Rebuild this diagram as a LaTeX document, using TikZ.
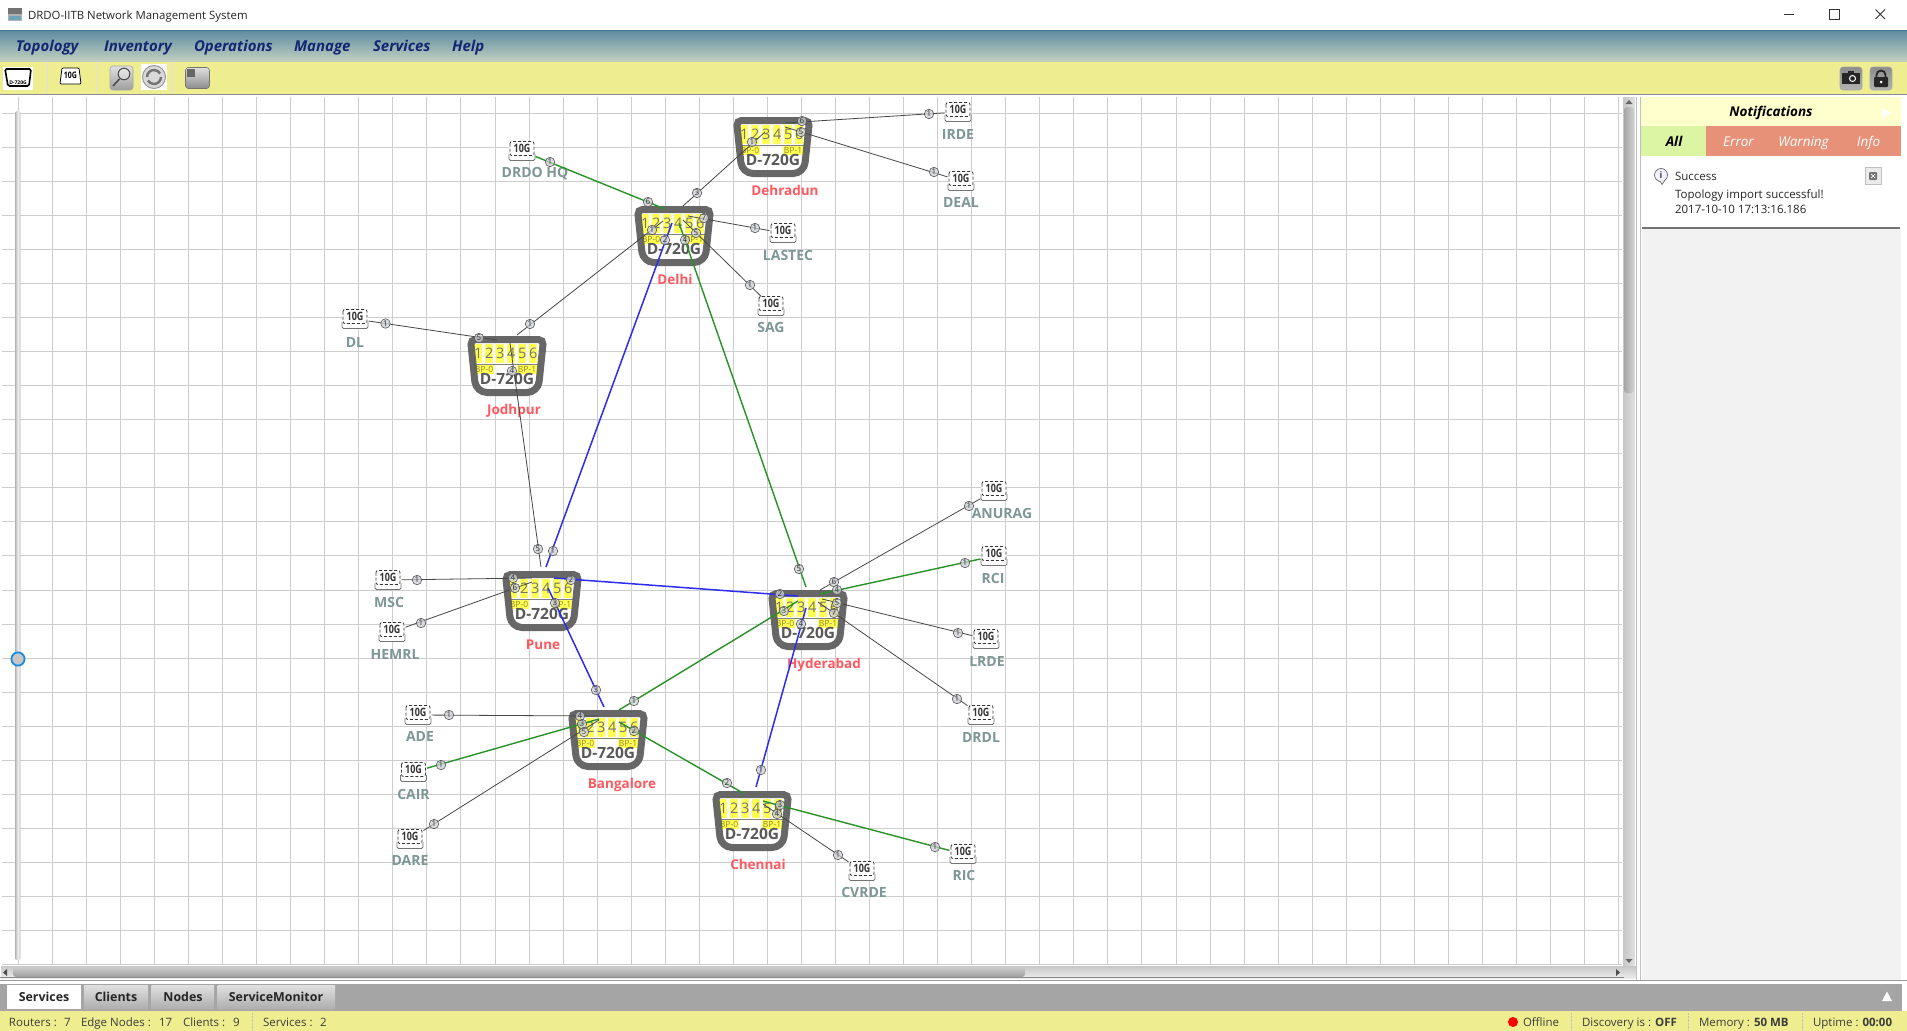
\documentclass[tikz,border=0pt]{standalone}
\usepackage{fontspec}
\setmainfont{Open Sans}
\usetikzlibrary{shapes.geometric}
\definecolor{gridc}{RGB}{205,205,205}
\definecolor{yellowbar}{RGB}{238,238,145}
\definecolor{menublue}{RGB}{18,38,115}
\definecolor{routergrey}{RGB}{95,95,95}
\definecolor{stripe}{RGB}{255,255,85}
\definecolor{bpink}{RGB}{150,135,40}
\definecolor{redlabel}{RGB}{255,88,95}
\definecolor{edgelabel}{RGB}{125,150,150}
\definecolor{linkgreen}{RGB}{40,145,40}
\definecolor{linkblue}{RGB}{45,45,240}
\definecolor{linkgrey}{RGB}{70,70,70}
\definecolor{portfill}{RGB}{205,208,212}
\definecolor{salmon}{RGB}{230,145,120}
\definecolor{panelbg}{RGB}{242,242,242}
\definecolor{tabgrey}{RGB}{165,165,165}
\definecolor{statusink}{RGB}{60,60,60}
\definecolor{menutop}{RGB}{92,140,160}
\definecolor{menubot}{RGB}{192,207,192}
\definecolor{menuline}{RGB}{70,120,150}
\definecolor{knobblue}{RGB}{25,140,225}
\definecolor{notifhead}{RGB}{255,255,205}
\definecolor{allgreen}{RGB}{220,245,165}
\tikzset{
  every node/.style={inner sep=0pt,outer sep=0pt},
  glink/.style={linkgreen,line width=1.4pt},
  blink/.style={linkblue,line width=1.5pt},
  klink/.style={linkgrey,line width=.8pt},
  port/.style={circle,draw=black!65,fill=portfill,fill opacity=.75,text opacity=1,line width=.6pt,minimum size=9.5pt,font=\fontsize{8}{8}\selectfont,text=black!80},
  routerbox/.style={minimum width=80pt,minimum height=60pt,rectangle},
  edgebox/.style={minimum width=27pt,minimum height=19pt,rectangle},
  rname/.style={font=\fontsize{13.5}{14}\selectfont\bfseries,text=redlabel,text height=9.6pt,text depth=0pt},
  ename/.style={font=\fontsize{14}{14}\selectfont\bfseries,text=edgelabel,text height=10pt,text depth=0pt},
  menuitem/.style={font=\fontsize{15}{16}\selectfont\bfseries\itshape,text=menublue,anchor=west,text height=10.7pt,text depth=0pt},
  stat/.style={font=\fontsize{11.5}{12}\selectfont,text=statusink,text height=8.2pt,text depth=0pt},
  tabtxt/.style={font=\fontsize{12.4}{14}\selectfont\bfseries,text=black!85,text height=8.8pt,text depth=0pt},
  nott/.style={font=\fontsize{13.5}{14}\selectfont\itshape,text=white,text height=9.6pt,text depth=0pt},
  notehead/.style={font=\fontsize{13.5}{14}\selectfont\bfseries\itshape,text height=9.6pt,text depth=0pt},
  notebody/.style={anchor=west,font=\fontsize{11.5}{13}\selectfont,text=black!85,text height=8.2pt,text depth=0pt},
  btn/.style={draw=black!35,line width=.6pt,rounded corners=3pt},
}
% \router{name}{x}{y}
\newcommand\routerpic[3]{%
  \node[routerbox] (#1) at (#2+40,#3+30) {};
  \begin{scope}[shift={(#2,#3)}]
    \fill[white,fill opacity=.72,rounded corners=5pt] (3.5,3.5)--(76.5,3.5)[rounded corners=11pt]--(71,56.5)--(9,56.5)[rounded corners=5pt]--cycle;
    \foreach \i in {0,...,5} {
      \fill[stripe] (7+11*\i,8) rectangle +(8.2,19.3);
      \pgfmathtruncatemacro\d{\i+1}
      \node[font=\fontsize{14.5}{15}\selectfont,text=black!55] at (11.2+11*\i,17.5) {\d};
    }
    \draw[black!50,line width=.5pt] (7,28)--(73,28);
    \fill[stripe] (7,29) rectangle (27,37.5);
    \fill[stripe] (50,29) rectangle (70,37.5);
    \node[font=\fontsize{8.5}{9}\selectfont,text=bpink] at (17,33.3) {BP-0};
    \node[font=\fontsize{8.5}{9}\selectfont,text=bpink] at (60,33.3) {BP-1};
    \node[font=\fontsize{15.5}{16}\selectfont\bfseries,text=black!65] at (40,42.5) {D-720G};
    \draw[routergrey,line width=7pt,opacity=.95,rounded corners=5pt] (3.5,3.5)--(76.5,3.5)[rounded corners=11pt]--(71,56.5)--(9,56.5)[rounded corners=5pt]--cycle;
  \end{scope}}
% \edgepic{name}{x}{y}
\newcommand\edgepic[3]{%
  \node[edgebox] (#1) at (#2,#3) {};
  \begin{scope}[shift={(#2,#3)}]
    \fill[white] (-13,-9.5) rectangle (13,9.5);
    \draw[black!80,line width=.8pt,densely dashed,rounded corners=2pt] (-12,-9.5) rectangle (12,4.5);
    \draw[black!55,line width=.8pt,rounded corners=1.5pt] (-13,3)--(-13,9.5)--(13,9.5)--(13,3);
    \node[font=\fontsize{11.5}{12}\selectfont\bfseries,text=black!80] at (0,-2.5) {\scalebox{.78}[1]{10G}};
  \end{scope}}
\begin{document}
\begin{tikzpicture}[x=1pt,y=-1pt]
\useasboundingbox (0,0) rectangle (1907,1031);
\fill[white] (0,0) rectangle (1907,1031);
% title bar
\node[font=\fontsize{11.4}{13}\selectfont,text=black!85,anchor=west] (title) at (28,16.5) {DRDO-IITB Network Management System};
\fill[black!55] (8,8) rectangle (22,14); \fill[black!30] (8,14) rectangle (22,21);
\fill[cyan!40!gray] (9,15.5) rectangle (21,20);
\draw[black!80,line width=.8pt] (1784,14)--(1794,14);
\draw[black!80,line width=.8pt] (1829.5,9.5) rectangle (1839,19);
\draw[black!80,line width=.8pt] (1875.5,9.5)--(1885,19) (1875.5,19)--(1885,9.5);
% menu bar
\shade[top color=menutop,bottom color=menubot] (0,30) rectangle (1907,61);
\draw[menuline,line width=.8pt] (0,30.5)--(1907,30.5);
\node[menuitem] (m1) at (16,46) {Topology};
\node[menuitem] (m2) at (104,46) {Inventory};
\node[menuitem] (m3) at (194,46) {Operations};
\node[menuitem] (m4) at (294,46) {Manage};
\node[menuitem] (m5) at (373,46) {Services};
\node[menuitem] (m6) at (452,46) {Help};
% toolbar
\fill[yellowbar] (0,62) rectangle (1907,94);
\draw[black!45,line width=1pt] (0,94.5)--(1907,94.5);
\draw[black!12] (47.5,62)--(47.5,94) (97.5,62)--(97.5,94) (172.5,62)--(172.5,94);
\fill[white] (3,67) rectangle (33,90);
\draw[black,line width=1.6pt,rounded corners=1.5pt] (5,69)--(31,69)--(29,86)--(8,86)--cycle;
\node[font=\fontsize{5}{5}\selectfont\bfseries] at (18,82.5) {D-720G};
\draw[black,line width=.8pt,fill=white,rounded corners=1pt] (62,68)--(79,68)--(81,84)--(60,84)--cycle;
\node[font=\fontsize{9}{9}\selectfont\bfseries] at (70.5,75) {\scalebox{.78}[1]{10G}};
\shade[btn,top color=black!12,bottom color=black!38] (110,66) rectangle (133,90);
\draw[black!70,line width=1pt,fill=white,fill opacity=.3] (124,74) circle (5.8);
\draw[black!70,line width=1.6pt] (119.5,79)--(113,86);
\fill[white] (141,64) rectangle (167,90);
\draw[black!40,line width=1pt,fill=black!15] (154,77) circle (11.5);
\draw[black!55,line width=2.4pt] (147,77) arc (180:330:7);
\draw[black!55,line width=2.4pt] (161,77) arc (0:150:7);
\shade[btn,draw=black!55,top color=black!12,bottom color=black!45] (185.5,67.5) rectangle (209.5,88.5);
\fill[black!60] (187,69) rectangle (195,77);
\shade[btn,draw=black!35,top color=black!45,bottom color=black!30] (1840,67) rectangle (1862,90);
\fill[black!85] (1842,73) rectangle (1860,84);
\fill[black!85] (1848,70.5) rectangle (1854,74);
\draw[white,line width=1pt] (1852.5,78.5) circle (3);
\shade[btn,draw=black!35,top color=black!45,bottom color=black!30] (1870,67) rectangle (1892,90);
\draw[black!85,line width=1.8pt] (1876.5,77)--(1876.5,75) arc (180:360:4.5) -- (1885.5,77);
\fill[black!85,rounded corners=1pt] (1874,77) rectangle (1888,87);
\fill[white] (1881,82) circle (1.5);
% drawing grid
\foreach \k in {0,...,47} \draw[gridc,line width=1pt] (18.3+34.05*\k,97)--(18.3+34.05*\k,965);
\foreach \k in {0,...,25} \draw[gridc,line width=1pt] (2,113.3+34.05*\k)--(1622,113.3+34.05*\k);
\fill[white] (1622,96) rectangle (1642,980);
% slider
\shade[left color=black!30,right color=black!22,middle color=black!6,rounded corners=1.5pt] (15,111) rectangle (20.5,960);
\draw[knobblue,line width=1.8pt,fill=black!22] (18,659) circle (6.6);
% vertical scrollbar
\shade[left color=black!22,right color=black!12] (1623,97) rectangle (1635,965);
\shade[left color=black!35,right color=black!18,rounded corners=3pt] (1624,107) rectangle (1634,393);
\fill[black!60] (1629,100)--(1632.5,104)--(1625.5,104)--cycle;
\fill[black!60] (1629,963)--(1632.5,959)--(1625.5,959)--cycle;
\fill[black!25] (1636,97) rectangle (1637,980);
\fill[black!25] (1640,97) rectangle (1641,980);
% horizontal scrollbar
\shade[top color=black!22,bottom color=black!8] (1,966) rectangle (1636,978);
\shade[top color=black!20,bottom color=black!38,rounded corners=3pt] (13,967) rectangle (1025,977);
\draw[black!45,line width=.7pt] (0,977.8)--(1624,977.8);
\fill[black!70] (7,969)--(3,972.5)--(7,976)--cycle;
\fill[black!70] (1616,969)--(1620,972.5)--(1616,976)--cycle;
\draw[black!40,line width=.7pt] (0,980.5)--(1907,980.5);
% notifications
\fill[panelbg] (1642,97) rectangle (1901,980);
\fill[notifhead] (1641,97) rectangle (1901,126);
\node[notehead] (notif) at (1771,112) {Notifications};
\fill[white] (1882,108)--(1891,113)--(1882,118)--cycle;
\fill[allgreen] (1641,126) rectangle (1706,156);
\fill[salmon] (1706,126) rectangle (1901,156);
\node[notehead] (tall) at (1674,141.5) {All};
\node[nott] (terr) at (1738.5,141.5) {Error};
\node[nott] (twarn) at (1803.5,141.5) {Warning};
\node[nott] (tinfo) at (1868.5,141.5) {Info};
\fill[white] (1642,156) rectangle (1901,227);
\fill[black!55] (1642,227) rectangle (1900,229);
\draw[black!60,line width=.7pt,fill=blue!5] (1661,175) circle (6.5);
\draw[black!60,line width=.7pt,fill=blue!5] (1660,181)--(1662,184.5)--(1665,180);
\node[font=\fontsize{9}{9}\selectfont\bfseries,text=black!75] at (1661,175) {i};
\node[notebody] (s1) at (1675,176) {Success};
\node[notebody] (s2) at (1675,194) {Topology import successful!};
\node[notebody] (s3) at (1675,209.5) {2017-10-10 17:13:16.186};
\draw[black!25,fill=black!8] (1865,167.5) rectangle (1881,184);
\fill[black!55,rounded corners=1pt] (1869,172) rectangle (1877,180);
\draw[white,line width=.7pt] (1871,174)--(1875,178) (1871,178)--(1875,174);
% tab bar
\fill[tabgrey] (0,984) rectangle (1902,1011);
\draw[white,line width=.8pt] (0,982)--(1907,982);
\fill[white] (7,985) rectangle (81,1009);
\shade[top color=black!12,bottom color=black!32] (84,985) rectangle (148,1009);
\shade[top color=black!12,bottom color=black!32] (151.5,985) rectangle (214,1009);
\shade[top color=black!12,bottom color=black!32] (217.5,985) rectangle (335,1009);
\node[tabtxt] (t1) at (44,997) {Services};
\node[tabtxt] (t2) at (116,997) {Clients};
\node[tabtxt] (t3) at (183,997) {Nodes};
\node[tabtxt] (t4) at (276,997) {ServiceMonitor};
\fill[white] (1882,1001)--(1887,991.5)--(1892,1001)--cycle;
% status bar
\fill[yellowbar] (0,1011) rectangle (1907,1031);
\node[stat,anchor=west] (st1) at (9,1022) {Routers :};
\node[stat,anchor=west] (st1b) at (64,1022) {7};
\node[stat,anchor=west] (st2) at (81,1022) {Edge Nodes :};
\node[stat,anchor=west] (st2b) at (159,1022) {17};
\node[stat,anchor=west] (st3) at (183,1022) {Clients :};
\node[stat,anchor=west] (st3b) at (233,1022) {9};
\draw[black!25,densely dotted] (252.5,1013)--(252.5,1030);
\node[stat,anchor=west] (st4) at (263,1022) {Services :};
\node[stat,anchor=west] (st4b) at (320,1022) {2};
\fill[red] (1513,1022) circle (5);
\node[stat,anchor=west] (st5) at (1523,1022) {Offline};
\draw[black!25,densely dotted] (1571.5,1013)--(1571.5,1030) (1688.5,1013)--(1688.5,1030) (1802.5,1013)--(1802.5,1030);
\node[stat,anchor=west] (st6) at (1582,1022) {Discovery is : \textbf{OFF}};
\node[stat,anchor=west] (st7) at (1699,1022) {Memory : \textbf{50 MB}};
\node[stat,anchor=west] (st8) at (1813,1022) {Uptime : \textbf{00:00}};
% routers
\routerpic{dehradun}{733}{117}
\routerpic{delhi}{634}{206}
\routerpic{jodhpur}{467}{336}
\routerpic{pune}{502}{571}
\routerpic{hyderabad}{768}{590}
\routerpic{bangalore}{568}{710}
\routerpic{chennai}{712}{791}
\node[rname] (ndehradun) at (785,191) {Dehradun};
\node[rname] (ndelhi) at (675,280) {Delhi};
\node[rname] (njodhpur) at (514,410) {Jodhpur};
\node[rname] (npune) at (543,644.5) {Pune};
\node[rname] (nhyderabad) at (824,664) {Hyderabad};
\node[rname] (nbangalore) at (622,784) {Bangalore};
\node[rname] (nchennai) at (758,865) {Chennai};
% edge nodes
\edgepic{drdohq}{522}{151}\node[ename] at (535,172) {DRDO HQ};
\edgepic{irde}{958}{112}\node[ename] at (958,134) {IRDE};
\edgepic{deal}{961}{181}\node[ename] at (961,202) {DEAL};
\edgepic{lastec}{783}{233}\node[ename] at (788,255) {LASTEC};
\edgepic{sag}{771}{306}\node[ename] at (771,327) {SAG};
\edgepic{dl}{355}{319}\node[ename] at (355,342) {DL};
\edgepic{anurag}{994}{491}\node[ename] at (1002,513) {ANURAG};
\edgepic{rci}{994}{556}\node[ename] at (993,578) {RCI};
\edgepic{lrde}{986}{639}\node[ename] at (987,661) {LRDE};
\edgepic{drdl}{981}{715}\node[ename] at (981,737) {DRDL};
\edgepic{ric}{963}{854}\node[ename] at (964,875) {RIC};
\edgepic{cvrde}{862}{871}\node[ename] at (864,892) {CVRDE};
\edgepic{ade}{418}{715}\node[ename] at (420,736) {ADE};
\edgepic{cair}{413.5}{772}\node[ename] at (413.5,794) {CAIR};
\edgepic{dare}{410}{839}\node[ename] at (410,860) {DARE};
\edgepic{msc}{388}{580}\node[ename] at (389,602) {MSC};
\edgepic{hemrl}{392}{632}\node[ename] at (395,654) {HEMRL};
% connector ends inside or at the routers
\foreach \n/\p in {
 dA/{665,209}, dB/{683,206}, dC/{688,216}, dD/{683,220}, dE/{663,221}, dF/{672,223}, dG/{679,223},
 uA/{765,132}, uB/{785,123}, uC/{785,127},
 jA/{517,335}, jB/{497,340}, jC/{510,343},
 pA/{546,567}, pB/{541,567}, pC/{532,578}, pD/{532,582}, pE/{554,578}, pF/{548,588},
 hA/{806,587}, hB/{798,596}, hC/{798,601}, hD/{806,608}, hE/{820,590}, hF/{820,594}, hG/{822,599}, hH/{818,602},
 bA/{604,707}, bB/{619,710}, bC/{619,722}, bD/{598,716}, bE/{599,719}, bF/{599,720},
 cA/{756,787}, cB/{743,793}, cC/{763,801}, cD/{763,804}}
 { \coordinate (\n) at (\p); }
% connectors
\draw[glink] (dA)--(drdohq);
\draw[klink] (dB)--(uA);
\draw[klink] (uB)--(irde);
\draw[klink] (uC)--(deal);
\draw[klink] (dC)--(lastec);
\draw[klink] (dD)--(sag);
\draw[klink] (dE)--(jA);
\draw[blink] (dF)--(pA);
\draw[glink] (dG)--(hA);
\draw[klink] (jB)--(dl);
\draw[klink] (jC)--(pB);
\draw[klink] (pC)--(msc);
\draw[klink] (pD)--(hemrl);
\draw[blink] (pE)--(hB);
\draw[blink] (pF)--(bA);
\draw[glink] (bB)--(hC);
\draw[blink] (hD)--(cA);
\draw[glink] (bC)--(cB);
\draw[klink] (bD)--(ade);
\draw[glink] (bE)--(cair);
\draw[klink] (bF)--(dare);
\draw[klink] (hE)--(anurag);
\draw[glink] (hF)--(rci);
\draw[klink] (hG)--(lrde);
\draw[klink] (hH)--(drdl);
\draw[glink] (cC)--(ric);
\draw[klink] (cD)--(cvrde);
% port markers
\foreach \n/\p/\t in {
 a1/{550,162}/1, a2/{648,202}/6, a3/{697,193}/3, a4/{752,142}/1, a5/{802,121}/6, a6/{929,114}/1,
 a7/{801,132}/5, a8/{934,172}/1, a9/{704,218}/7, a10/{755,228}/1, a11/{696,233}/5, a12/{750,285}/1,
 a13/{652,230}/1, a14/{530,324}/1, a15/{665,240}/2, a16/{553,551}/1, a17/{685,240}/4, a18/{799,569}/5,
 a19/{479,338}/5, a20/{385.5,323.5}/1, a21/{512,371}/4, a22/{538,549}/5, a23/{513,578}/4, a24/{417,580}/1,
 a25/{515,588}/6, a26/{421,623}/1, a27/{571,580}/2, a28/{780,594}/2, a29/{555,603}/3, a30/{596,690}/3,
 a31/{634,701}/1, a32/{784,611}/3, a33/{801,624}/4, a34/{761,770}/1, a35/{634,731}/2, a36/{727,783}/2,
 a37/{580,716}/4, a38/{449,715}/1, a39/{582,724}/3, a40/{441,765}/1, a41/{584,732}/5, a42/{434,824}/1,
 a43/{834,582}/6, a44/{969,506}/1, a45/{837,590}/4, a46/{965,563}/1, a47/{837,603}/5, a48/{958,633}/1,
 a49/{834,613}/7, a50/{957,699}/1, a51/{780,805}/3, a52/{935,847}/1, a53/{777,814}/4, a54/{838,855}/1}
 { \node[port] (\n) at (\p) {\t}; }
\end{tikzpicture}
\end{document}
